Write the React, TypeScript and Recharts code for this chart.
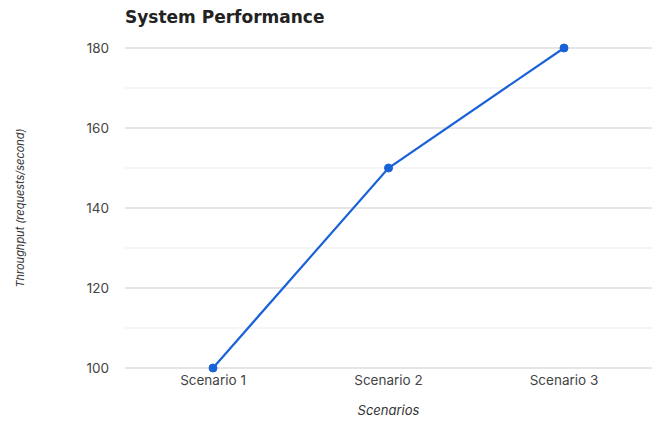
import { LineChart, Line, XAxis, YAxis, CartesianGrid, ReferenceLine, Label } from 'recharts';

const scenarios = ['Scenario 1', 'Scenario 2', 'Scenario 3'];
const throughput = [100, 150, 180];
const majorTicks = [100, 120, 140, 160, 180];
const minorTicks = [110, 130, 150, 170];

const data = scenarios.map((name, i) => ({ name, throughput: throughput[i] }));

const font = "Inter, 'Open Sans', sans-serif";

const App: React.FC = () => {
  return (
    <div style={{ position: 'absolute', left: 0, top: 0, width: 660, height: 421, background: '#fff', fontFamily: font }}>
      <div
        style={{
          position: 'absolute',
          left: 125,
          top: 7,
          fontSize: 17,
          fontWeight: 700,
          color: '#222',
          fontFamily: "'DejaVu Sans', sans-serif",
        }}
      >
        System Performance
      </div>
      <LineChart width={660} height={421} data={data} margin={{ top: 48, right: 8, left: 5, bottom: 0 }}>
        <CartesianGrid vertical={false} stroke='#cccccc' />
        {minorTicks.map((v) => (
          <ReferenceLine key={v} y={v} stroke='#ebebeb' strokeWidth={1} />
        ))}
        <XAxis
          dataKey='name'
          axisLine={false}
          tickLine={false}
          tickMargin={1}
          height={53}
          padding={{ left: 88, right: 88 }}
          tick={{ fill: '#444', fontSize: 13.5, fontFamily: font }}
        >
          <Label
            value='Scenarios'
            position='insideBottom'
            offset={6}
            style={{ fontStyle: 'italic', fontSize: 13, fill: '#333', fontFamily: font }}
          />
        </XAxis>
        <YAxis
          domain={[100, 180]}
          ticks={majorTicks}
          axisLine={false}
          tickLine={false}
          tickMargin={10}
          width={120}
          tick={{ fill: '#444', fontSize: 13.5, fontFamily: font }}
        >
          <Label
            value='Throughput (requests/second)'
            angle={-90}
            position='insideLeft'
            offset={15}
            style={{ textAnchor: 'middle', fontStyle: 'italic', fontSize: 11, fill: '#333', fontFamily: font }}
          />
        </YAxis>
        <Line
          type='linear'
          dataKey='throughput'
          stroke='#1a62d8'
          strokeWidth={2.2}
          dot={{ r: 4, fill: '#1a62d8', stroke: '#1a62d8', strokeWidth: 1 }}
          activeDot={false}
          isAnimationActive={false}
        />
      </LineChart>
    </div>
  );
};

export default App;
